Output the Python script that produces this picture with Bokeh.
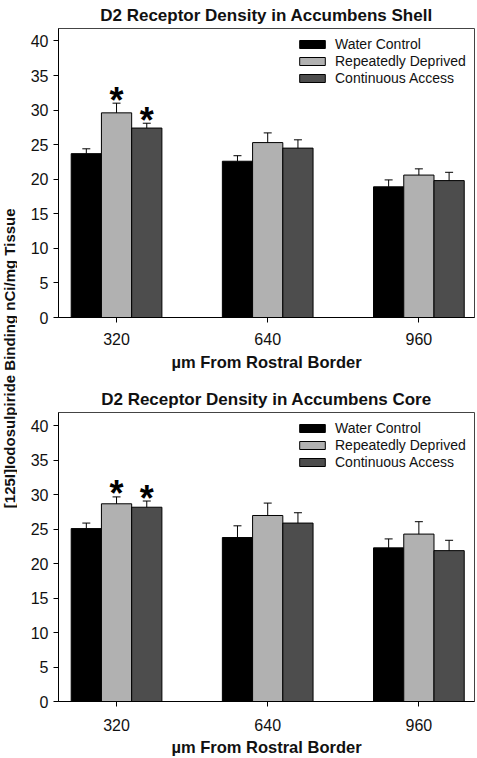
import math
from bokeh.plotting import figure
from bokeh.models import (ColumnDataSource, Whisker, TeeHead, FixedTicker, Legend,
                          LegendItem, Label, Title, Range1d)
from bokeh.layouts import row, column
from bokeh.embed import file_html
from bokeh.resources import INLINE
from bokeh.core.properties import value

# ---------------- data ----------------
distances = ["320", "640", "960"]
series_names = ["Water Control", "Repeatedly Deprived", "Continuous Access"]

shell_water = [23.7, 22.6, 18.9]
shell_water_sem = [0.7, 0.8, 1.0]
shell_deprived = [29.6, 25.3, 20.6]
shell_deprived_sem = [1.4, 1.4, 0.9]
shell_access = [27.4, 24.5, 19.8]
shell_access_sem = [0.7, 1.2, 1.2]
shell_sig_distance = ["320", "320"]
shell_sig_series = ["Repeatedly Deprived", "Continuous Access"]

core_water = [25.1, 23.8, 22.3]
core_water_sem = [0.8, 1.7, 1.3]
core_deprived = [28.7, 27.0, 24.3]
core_deprived_sem = [1.0, 1.8, 1.8]
core_access = [28.2, 25.9, 21.9]
core_access_sem = [0.9, 1.5, 1.5]
core_sig_distance = ["320", "320"]
core_sig_series = ["Repeatedly Deprived", "Continuous Access"]

y_ticks = [0, 5, 10, 15, 20, 25, 30, 35, 40]

# ---------------- style ----------------
FONT = "Liberation Sans"
COLORS = ["#000000", "#b1b1b1", "#4d4d4d"]
BAR_W = 0.2
OFFSETS = [-0.2, 0.0, 0.2]


def make_chart(title, means, sems, sig_dist, sig_series, height, top, bottom, ymax,
               title_standoff, label_standoff, axis_label_standoff):
    p = figure(width=460, height=height, x_range=Range1d(-0.384, 2.368),
               y_range=Range1d(0, ymax), toolbar_location=None, output_backend="svg",
               min_border_left=41, min_border_right=3, min_border_top=top,
               min_border_bottom=bottom)
    p.title = None
    t = Title(text=title, align="center", text_font=FONT,
              text_font_size="17px", text_font_style="bold", text_color="#111111",
              standoff=title_standoff)
    p.add_layout(t, "above")
    p.xgrid.visible = False
    p.ygrid.visible = False
    p.outline_line_color = "#444444"
    p.outline_line_width = 1

    items = []
    for j, name in enumerate(series_names):
        xs = [i + OFFSETS[j] for i in range(len(distances))]
        src = ColumnDataSource(dict(x=xs, top=means[j],
                                    upper=[m + s for m, s in zip(means[j], sems[j])]))
        r = p.vbar(x="x", top="top", bottom=0, width=BAR_W, source=src,
                   fill_color=COLORS[j], line_color="#000000", line_width=1)
        w = Whisker(source=src, base="x", upper="upper", lower="top", dimension="height",
                    line_color="#000000", line_width=1,
                    upper_head=TeeHead(size=8, line_color="#000000", line_width=1),
                    lower_head=None, level="glyph")
        p.add_layout(w)
        items.append(LegendItem(label=name, renderers=[r]))

    # significance asterisks
    ax, ay = [], []
    for d, s in zip(sig_dist, sig_series):
        i = distances.index(d)
        j = series_names.index(s)
        ax.append(i + OFFSETS[j])
        ay.append(means[j][i] + sems[j][i])
    p.text(x=ax, y=ay, text=["*"] * len(ax), text_font=value(FONT),
           text_font_size="36px", text_font_style="bold", text_align="center",
           text_baseline="middle", y_offset=-3, text_color="#000000")

    leg = Legend(items=items, location="top_right", border_line_color=None,
                 background_fill_alpha=0, padding=0, margin=7, spacing=0,
                 glyph_width=32, glyph_height=10, label_height=17, label_width=132,
                 label_standoff=7, label_text_font=FONT, label_text_font_size="14px",
                 label_text_color="#111111")
    p.add_layout(leg)

    p.xaxis.ticker = FixedTicker(ticks=list(range(len(distances))))
    p.xaxis.major_label_overrides = {i: d for i, d in enumerate(distances)}
    p.xaxis.axis_label = "\u00b5m From Rostral Border"
    p.yaxis.ticker = FixedTicker(ticks=y_ticks)
    for ax_ in (p.xaxis, p.yaxis):
        ax_.major_label_text_font = FONT
        ax_.major_label_text_font_size = "16px"
        ax_.major_label_text_color = "#111111"
        ax_.axis_label_text_font = FONT
        ax_.axis_label_text_font_size = "16.5px"
        ax_.axis_label_text_font_style = "bold"
        ax_.axis_label_text_color = "#111111"
        ax_.minor_tick_line_color = None
        ax_.major_tick_in = 0
        ax_.major_tick_out = 5
        ax_.axis_line_color = "#000000"
        ax_.major_tick_line_color = "#000000"
    p.xaxis.major_label_standoff = label_standoff
    p.xaxis.axis_label_standoff = axis_label_standoff
    p.yaxis.major_label_standoff = 5
    return p


top_fig = make_chart("D2 Receptor Density in Accumbens Shell",
                     [shell_water, shell_deprived, shell_access],
                     [shell_water_sem, shell_deprived_sem, shell_access_sem],
                     shell_sig_distance, shell_sig_series, 378, 27, 61, 41.8,
                     7, 10, 5)
bot_fig = make_chart("D2 Receptor Density in Accumbens Core",
                     [core_water, core_deprived, core_access],
                     [core_water_sem, core_deprived_sem, core_access_sem],
                     core_sig_distance, core_sig_series, 380, 34, 56, 41.95,
                     7, 12, 4)

lab = figure(width=17, height=758, x_range=Range1d(0, 1), y_range=Range1d(0, 1),
             toolbar_location=None, output_backend="svg", min_border=0)
lab.axis.visible = False
lab.grid.visible = False
lab.outline_line_color = None
lab.add_layout(Label(x=0.5, y=0.528, angle=math.pi / 2,
                     text="[125I]Iodosulpiride Binding nCi/mg Tissue",
                     text_font=FONT, text_font_size="15px", text_font_style="bold",
                     text_color="#111111", text_align="center", text_baseline="middle"))

p = row(lab, column(top_fig, bot_fig))

open("out.html", "w").write(file_html(p, INLINE))
